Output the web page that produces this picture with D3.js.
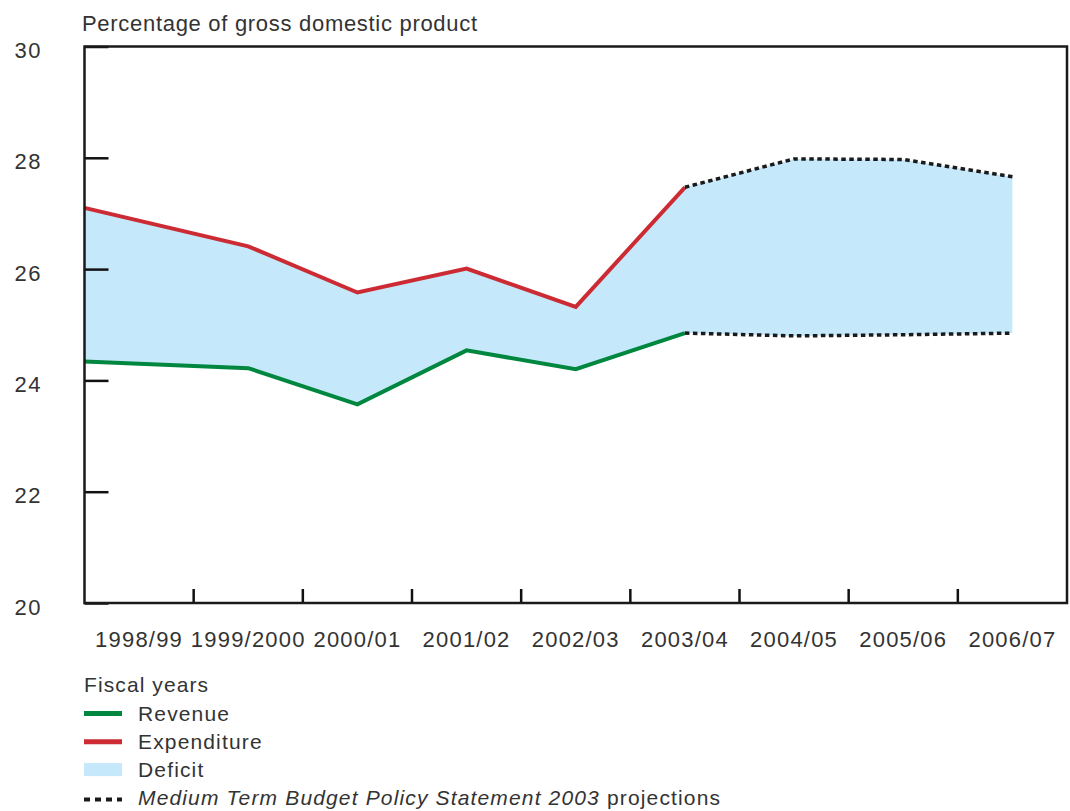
<!DOCTYPE html>
<html>
<head>
<meta charset="utf-8">
<script src="https://cdn.jsdelivr.net/npm/d3@7"></script>
<style>
  body { margin: 0; background: #fff; }
  svg text { font-family: "Liberation Sans", Arial, sans-serif; fill: #333; }
</style>
</head>
<body>
<svg id="chart" width="1070" height="811"></svg>
<script>
// fiscal years on the x axis
const years = ['1998/99', '1999/2000', '2000/01', '2001/02', '2002/03',
               '2003/04', '2004/05', '2005/06', '2006/07'];
// per cent of GDP
const revenue = [24.34, 24.22, 23.57, 24.54, 24.20, 24.85, 24.80, 24.82, 24.85];
const expenditure = [27.10, 26.41, 25.58, 26.01, 25.32, 27.47, 27.98, 27.97, 27.66];
// last outcome year, after this it's MTBPS projections
const lastActual = '2003/04';
const yTicks = [20, 22, 24, 26, 28, 30];

const legendItems = ['Revenue', 'Expenditure', 'Deficit'];

const green = '#00873f';
const red = '#cc2b33';
const blue = '#c5e9fb';

const svg = d3.select('#chart');

const margin = { top: 46.5, right: 3, bottom: 208, left: 84.5 };
const width = 1070 - margin.left - margin.right;
const height = 811 - margin.top - margin.bottom;

const g = svg.append('g')
    .attr('transform', `translate(${margin.left}, ${margin.top})`);

const x = d3.scaleBand()
    .domain(years)
    .range([0, width]);

const y = d3.scaleLinear()
    .domain([20, 30])
    .range([height, 0]);

// series start at the axis, the rest sit mid-band
const xPos = (i) => i === 0 ? x(years[0]) : x(years[i]) + x.bandwidth() / 2;

const rows = years.map((yr, i) => ({ yr, i, rev: revenue[i], exp: expenditure[i] }));
const split = years.indexOf(lastActual);
const actual = rows.slice(0, split + 1);
const proj = rows.slice(split);

// deficit band
g.append('path')
    .datum(rows)
    .attr('fill', blue)
    .attr('d', d3.area()
        .x(d => xPos(d.i))
        .y0(d => y(d.rev))
        .y1(d => y(d.exp)));

const line = (key) => d3.line().x(d => xPos(d.i)).y(d => y(d[key]));

g.append('path')
    .datum(actual)
    .attr('fill', 'none')
    .attr('stroke', red)
    .attr('stroke-width', 4)
    .attr('d', line('exp'));

g.append('path')
    .datum(actual)
    .attr('fill', 'none')
    .attr('stroke', green)
    .attr('stroke-width', 4)
    .attr('d', line('rev'));

['exp', 'rev'].forEach(key => {
    g.append('path')
        .datum(proj)
        .attr('fill', 'none')
        .attr('stroke', '#1a1a1a')
        .attr('stroke-width', 3.5)
        .attr('stroke-dasharray', '4.5,3.5')
        .attr('d', line(key));
});

// y axis, ticks pointing inward
const yAxis = g.append('g')
    .call(d3.axisLeft(y).tickValues(yTicks).tickSize(-24).tickPadding(70));
yAxis.select('.domain').remove();
yAxis.selectAll('.tick line').attr('stroke', '#111').attr('stroke-width', 2.5);
yAxis.selectAll('.tick text')
    .attr('text-anchor', 'start')
    .attr('dy', '0.5em')
    .style('font-size', '22px')
    .style('letter-spacing', '1.5px')
    .style('fill', '#333');

// x tick marks at the band edges
g.append('g')
    .selectAll('line')
    .data(years.slice(1))
    .join('line')
    .attr('x1', d => x(d))
    .attr('x2', d => x(d))
    .attr('y1', height)
    .attr('y2', height - 14)
    .attr('stroke', '#111')
    .attr('stroke-width', 2.5);

const xAxis = g.append('g')
    .attr('transform', `translate(0, ${height})`)
    .call(d3.axisBottom(x).tickSize(0).tickPadding(28));
xAxis.select('.domain').remove();
xAxis.selectAll('.tick text')
    .style('font-size', '22px')
    .style('letter-spacing', '1.2px')
    .style('fill', '#333');

// frame
g.append('rect')
    .attr('width', width)
    .attr('height', height)
    .attr('fill', 'none')
    .attr('stroke', '#1a1a1a')
    .attr('stroke-width', 2.5);

svg.append('text')
    .attr('x', 82)
    .attr('y', 30.5)
    .style('font-size', '22px')
    .style('letter-spacing', '0.7px')
    .text('Percentage of gross domestic product');

// legend
const lg = svg.append('g').attr('transform', 'translate(84, 0)');

lg.append('text')
    .attr('x', 0)
    .attr('y', 692)
    .style('font-size', '21px')
    .style('letter-spacing', '1.1px')
    .text('Fiscal years');

const rowY = (i) => 720.5 + i * 28.3;

lg.selectAll('.lab')
    .data(legendItems.concat(['mtbps']))
    .join('text')
    .attr('class', 'lab')
    .attr('x', 54)
    .attr('y', (d, i) => rowY(i))
    .style('font-size', '21px')
    .style('letter-spacing', '1.15px')
    .each(function(d) {
        const t = d3.select(this);
        if (d === 'mtbps') {
            t.append('tspan').style('font-style', 'italic')
                .text('Medium Term Budget Policy Statement 2003');
            t.append('tspan').text(' projections');
        } else {
            t.text(d);
        }
    });

lg.append('line')
    .attr('x1', 0).attr('x2', 38)
    .attr('y1', rowY(0) - 7).attr('y2', rowY(0) - 7)
    .attr('stroke', green).attr('stroke-width', 5);

lg.append('line')
    .attr('x1', 0).attr('x2', 38)
    .attr('y1', rowY(1) - 7).attr('y2', rowY(1) - 7)
    .attr('stroke', red).attr('stroke-width', 5);

lg.append('rect')
    .attr('x', 0).attr('y', rowY(2) - 14)
    .attr('width', 38).attr('height', 13)
    .attr('fill', blue);

lg.append('line')
    .attr('x1', 0).attr('x2', 38)
    .attr('y1', rowY(3) - 6).attr('y2', rowY(3) - 6)
    .attr('stroke', '#1a1a1a').attr('stroke-width', 4)
    .attr('stroke-dasharray', '6,5');
</script>
</body>
</html>
